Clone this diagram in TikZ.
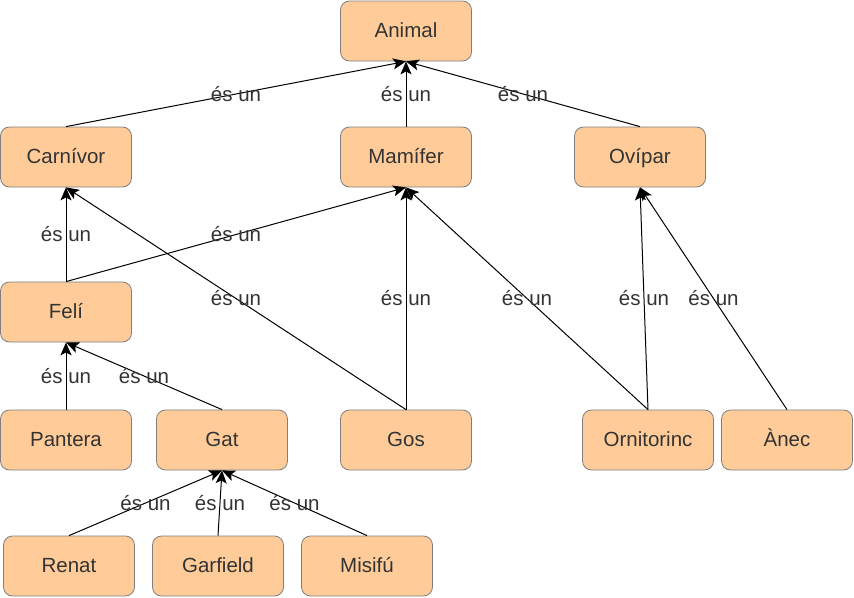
\documentclass[tikz,border=0pt]{standalone}
\usepackage{fontspec}
\setmainfont{Liberation Sans}
\usepackage{xcolor}
\usetikzlibrary{arrows.meta, positioning}
\definecolor{caixa}{HTML}{FFCC99}
\definecolor{vora}{HTML}{7F7F7F}
\definecolor{lletra}{HTML}{333333}

\tikzset{
  classe/.style={draw=vora, fill=caixa, rounded corners=9pt, line width=0.8pt,
    minimum width=131pt, minimum height=60pt, inner sep=0pt,
    text height=15.5pt, text depth=3.5pt,
    text=lletra, font=\fontsize{20.5}{24}\selectfont},
  esun/.style={-{Stealth[length=13pt, width=11pt, inset=3pt]}, line width=1pt, black},
  etiqueta/.style={text=lletra, font=\fontsize{20.5}{24}\selectfont, inner sep=0pt}
}

\begin{document}
\begin{tikzpicture}[node distance=2cm, on grid]
        \useasboundingbox (0pt,0pt) rectangle (854pt,-597pt);
        \node[classe] (animal) at (406pt,-31pt) {Animal};
        \node[classe] (mamifer) [below=126pt of animal] {Mamífer};
        \node[classe] (carnivor) [left=340pt of mamifer] {Carnívor};
        \node[classe] (ovipar) [right=234pt of mamifer] {Ovípar};
        \node[classe] (feli) [below=155pt of carnivor] {Felí};
        \node[classe] (pantera) [below=128pt of feli] {Pantera};
        \node[classe] (gat) [right=156pt of pantera] {Gat};
        \node[classe] (gos) [below=283pt of mamifer] {Gos};
        \node[classe] (ornitorinc) [right=242pt of gos] {Ornitorinc};
        \node[classe] (anec) [right=139pt of ornitorinc] {Ànec};
        \node[classe] (renat) [below right=126pt and 3pt of pantera] {Renat};
        \node[classe] (garfield) [right=149pt of renat] {Garfield};
        \node[classe] (misifu) [right=149pt of garfield] {Misifú};

        \path[esun]
        (carnivor.north) edge node[etiqueta] {és un} (animal.south)
        (mamifer.north) edge node[etiqueta] {és un} (animal.south)
        (ovipar.north) edge node[etiqueta] {és un} (animal.south)
        (feli.north) edge node[etiqueta] {és un} (carnivor.south)
        (feli.north) edge node[etiqueta] {és un} (mamifer.south)
        (gos.north) edge node[etiqueta] {és un} (carnivor.south)
        (gos.north) edge node[etiqueta] {és un} (mamifer.south)
        (ornitorinc.north) edge node[etiqueta] {és un} (mamifer.south)
        (ornitorinc.north) edge node[etiqueta] {és un} (ovipar.south)
        (anec.north) edge node[etiqueta] {és un} (ovipar.south)
        (pantera.north) edge node[etiqueta] {és un} (feli.south)
        (gat.north) edge node[etiqueta] {és un} (feli.south)
        (renat.north) edge node[etiqueta] {és un} (gat.south)
        (garfield.north) edge node[etiqueta] {és un} (gat.south)
        (misifu.north) edge node[etiqueta] {és un} (gat.south);
\end{tikzpicture}
\end{document}
